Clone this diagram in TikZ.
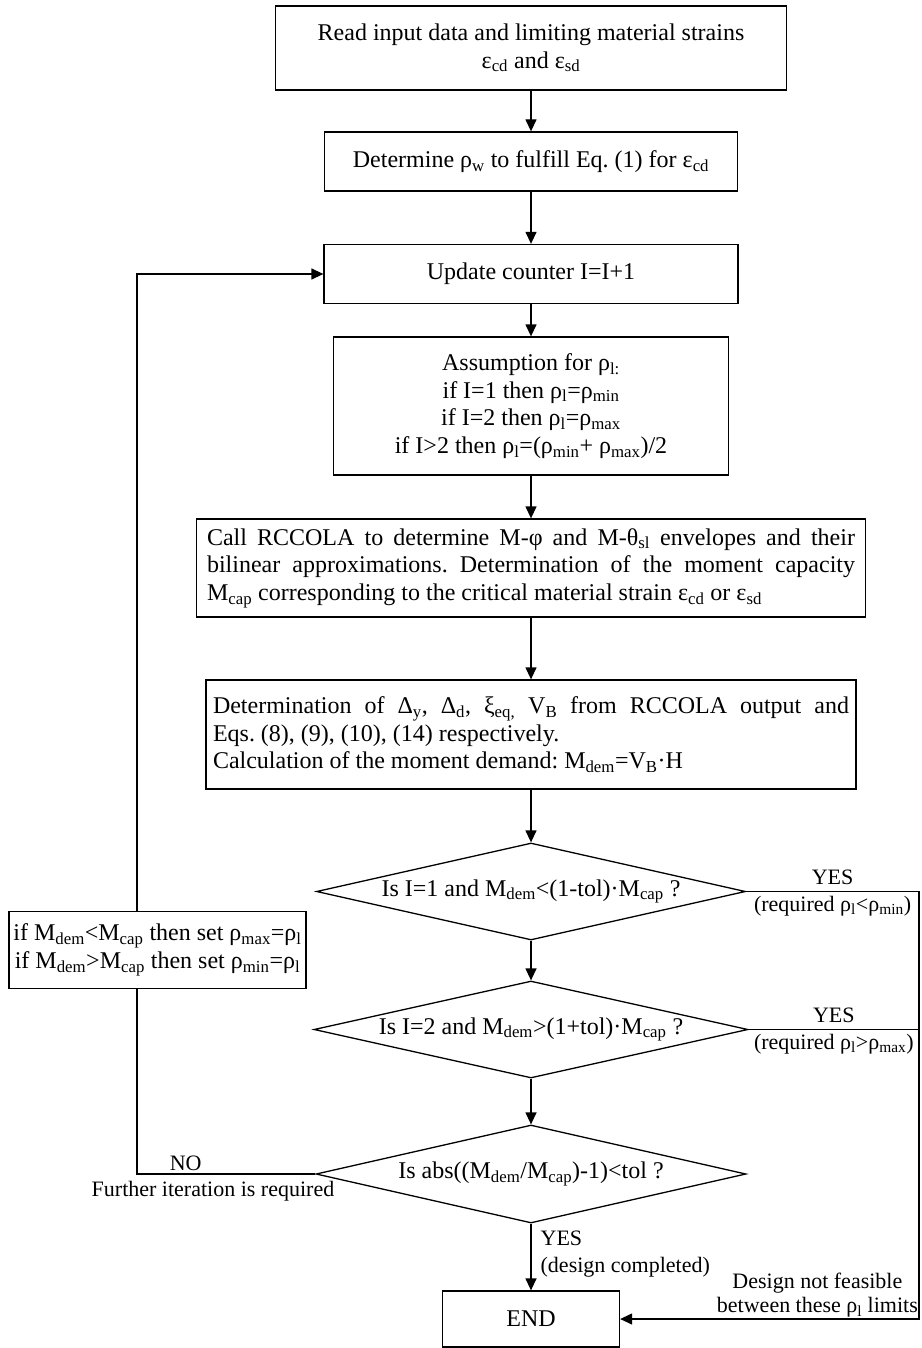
\documentclass[tikz,border=0pt]{standalone}
\usepackage{fontspec}
\setmainfont{Liberation Serif}
\usepackage{tikz}
\usetikzlibrary{arrows.meta,shapes.geometric}
\newcommand{\low}[1]{\textsubscript{#1}}
\frenchspacing

\begin{document}
\begin{tikzpicture}[>={Triangle[length=12pt,width=11pt]}, line width=1.3pt, x=1pt, y=-1pt, node distance=113.5pt]
  \tikzstyle{block}=[draw, rectangle, align=center, inner sep=0pt, font=\fontsize{24}{27.7}\selectfont]
  \tikzstyle{decision}=[draw, diamond, aspect=4.4, inner sep=0pt, font=\fontsize{24}{27.7}\selectfont]
  \tikzstyle{lbl}=[inner sep=0pt, font=\fontsize{22}{27}\selectfont]

  \useasboundingbox (0,0) rectangle (921,1348);

  \node[block, minimum width=511pt, minimum height=84pt] (read) at (531,48) {Read input data and limiting material strains\\ε\low{cd} and ε\low{sd}};
  \node[block, minimum width=413pt, minimum height=59pt] (rhow) [below of=read] {Determine ρ\low{w} to fulfill Eq. (1) for ε\low{cd}};
  \node[block, minimum width=414pt, minimum height=59pt] (counter) [below of=rhow, node distance=112.5pt] {Update counter I=I+1};
  \node[block, minimum width=395pt, minimum height=138pt] (assume) [below of=counter, node distance=132pt] {Assumption for ρ\low{l:}\\if I=1 then ρ\low{l}=ρ\low{min}\\if I=2 then ρ\low{l}=ρ\low{max}\\if I>2 then ρ\low{l}=(ρ\low{min}+ ρ\low{max})/2};
  \node[block, text width=648pt, align=justify, inner xsep=10.5pt, minimum height=98pt] (rccola) [below of=assume, node distance=162pt] {Call RCCOLA to determine M-φ and M-θ\low{sl} envelopes and their\linebreak bilinear approximations. Determination of the moment capacity\linebreak M\low{cap} corresponding to the critical material strain ε\low{cd} or ε\low{sd}};
  \node[block, text width=636pt, align=justify, inner xsep=7pt, minimum height=109pt] (demand) [below of=rccola, node distance=166.5pt] {Determination of Δ\low{y}, Δ\low{d}, ξ\low{eq,} V\low{B} from RCCOLA output and\linebreak Eqs. (8), (9), (10), (14) respectively.\\Calculation of the moment demand: M\low{dem}=V\low{B}·H};

  \node[decision, minimum width=429pt, minimum height=97pt] (chkmin) [below of=demand, node distance=157pt] {Is I=1 and M\low{dem}<(1-tol)·M\low{cap} ?};
  \node[decision, minimum width=434pt, minimum height=97pt] (chkmax) [below of=chkmin, node distance=138pt] {Is I=2 and M\low{dem}>(1+tol)·M\low{cap} ?};
  \node[decision, minimum width=430pt, minimum height=98pt] (conv) [below of=chkmax, node distance=144.5pt] {Is abs((M\low{dem}/M\low{cap})-1)<tol ?};
  \node[block, minimum width=177pt, minimum height=56pt] (finish) [below of=conv, node distance=145pt] {END};

  \node[block, minimum width=297pt, minimum height=77pt] (update) at (157.5,950) {if M\low{dem}<M\low{cap} then set ρ\low{max}=ρ\low{l}\\if M\low{dem}>M\low{cap} then set ρ\low{min}=ρ\low{l}};

  \coordinate (lx) at (137,0);
  \coordinate (rx) at (919,1319);

  \path[->] (read) edge (rhow)
        (rhow) edge (counter)
        (counter) edge (assume)
        (assume) edge (rccola)
        (rccola) edge (demand)
        (demand) edge (chkmin)
        (chkmin) edge (chkmax)
        (chkmax) edge (conv)
        (conv) edge node[lbl, right=9pt, align=left, pos=0.45] (done) {YES\\(design completed)} (finish);

  \draw (conv.west) -- node[lbl, above=3pt, pos=0.727] (no) {NO} node[lbl, below=7pt, pos=0.574] (further) {Further iteration is required} (conv.west -| lx) -- (lx |- update.south);
  \draw[->] (lx |- update.north) |- (counter.west);

  \draw[->] (chkmin.east) -- node[lbl, above=6pt] (yes1) {YES} node[lbl, below=4pt] (req1) {(required ρ\low{l}<ρ\low{min})} (chkmin.east -| rx) -- (rx) -- node[lbl, above=1pt, pos=0.34, align=center, font=\fontsize{22}{24}\selectfont] (nofeas) {Design not feasible\\between these ρ\low{l} limits} (finish.east);
  \draw (chkmax.east) -- node[lbl, above=6pt] (yes2) {YES} node[lbl, below=4pt] (req2) {(required ρ\low{l}>ρ\low{max})} (chkmax.east -| rx);
\end{tikzpicture}
\end{document}
